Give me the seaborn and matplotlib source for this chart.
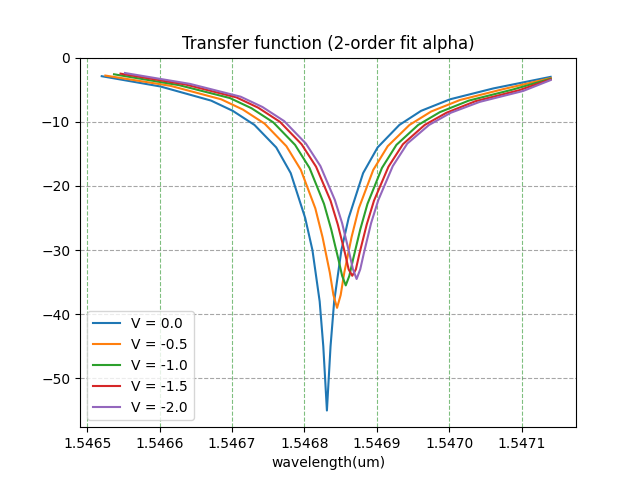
import matplotlib
matplotlib.use("Agg")
import matplotlib.pyplot as plt
import seaborn as sns
import pandas as pd

labels = ["V = 0.0", "V = -0.5", "V = -1.0", "V = -1.5", "V = -2.0"]
centers = [1.546831, 1.546845, 1.546857, 1.546866, 1.546872]
# offsets from dip (um)
offsets = [-3.2e-4, -2.3e-4, -1.6e-4, -1.3e-4, -1.0e-4, -0.7e-4, -0.5e-4, -0.3e-4, -0.2e-4,
           -0.1e-4, -0.05e-4, 0.0, 0.05e-4, 0.1e-4, 0.2e-4, 0.3e-4, 0.5e-4, 0.7e-4,
           1.0e-4, 1.3e-4, 1.7e-4, 2.3e-4, 3.1e-4]
t0 = [-2.9, -4.5, -6.7, -8.3, -10.5, -14, -18, -25, -30, -38, -45, -55, -45, -38, -30, -25, -18, -14, -10.5, -8.3, -6.5, -4.8, -3.0]
t1 = [-2.8, -4.4, -6.5, -8.1, -10.3, -13.8, -17.5, -23.5, -28, -33.5, -37, -39, -37, -33.5, -28, -23.5, -17.5, -13.8, -10.5, -8.4, -6.6, -4.9, -3.2]
t2 = [-2.6, -4.3, -6.3, -7.9, -10.1, -13.6, -17.2, -22.8, -26.8, -31.5, -34, -35.5, -34, -31.5, -26.8, -22.8, -17.2, -13.6, -10.5, -8.5, -6.7, -5.0, -3.3]
t3 = [-2.5, -4.2, -6.2, -7.8, -10.0, -13.5, -17.0, -22.3, -26.0, -30.5, -33, -34.0, -33, -30.5, -26.0, -22.3, -17.0, -13.5, -10.5, -8.6, -6.8, -5.1, -3.4]
t4 = [-2.4, -4.1, -6.1, -7.7, -9.9, -13.4, -16.9, -22.2, -25.8, -30.5, -33, -34.5, -33, -30.5, -25.8, -22.2, -16.9, -13.4, -10.5, -8.6, -6.9, -5.2, -3.5]
series = [t0, t1, t2, t3, t4]

x_min, x_max = 1.54652, 1.54714
rows = []
for lab, c, ys in zip(labels, centers, series):
    for o, y in zip(offsets, ys):
        x = min(max(c + o, x_min), x_max)
        rows.append((lab, x, y))
df = pd.DataFrame(rows, columns=["V", "wl", "T"])

fig, ax = plt.subplots(figsize=(6.4, 4.8), dpi=100)
sns.lineplot(data=df, x="wl", y="T", hue="V", hue_order=labels, ax=ax,
             palette=["#1f77b4", "#ff7f0e", "#2ca02c", "#d62728", "#9467bd"], lw=1.5)
ax.xaxis.grid(True, color="green", alpha=0.5, ls="--")
ax.yaxis.grid(True, color="gray", alpha=0.7, ls="--")
ax.set_xticks([1.5465, 1.5466, 1.5467, 1.5468, 1.5469, 1.5470, 1.5471])
ax.set_xticklabels(["1.5465", "1.5466", "1.5467", "1.5468", "1.5469", "1.5470", "1.5471"])
ax.set_xlim(1.54649, 1.546775 + 0.0004)
ax.set_ylim(-57.6, 0)
ax.set_xlabel("wavelength(um)")
ax.set_ylabel("")
ax.set_title("Transfer function (2-order fit alpha)")
ax.legend(loc="lower left", title=None)
fig.savefig("out.png")
